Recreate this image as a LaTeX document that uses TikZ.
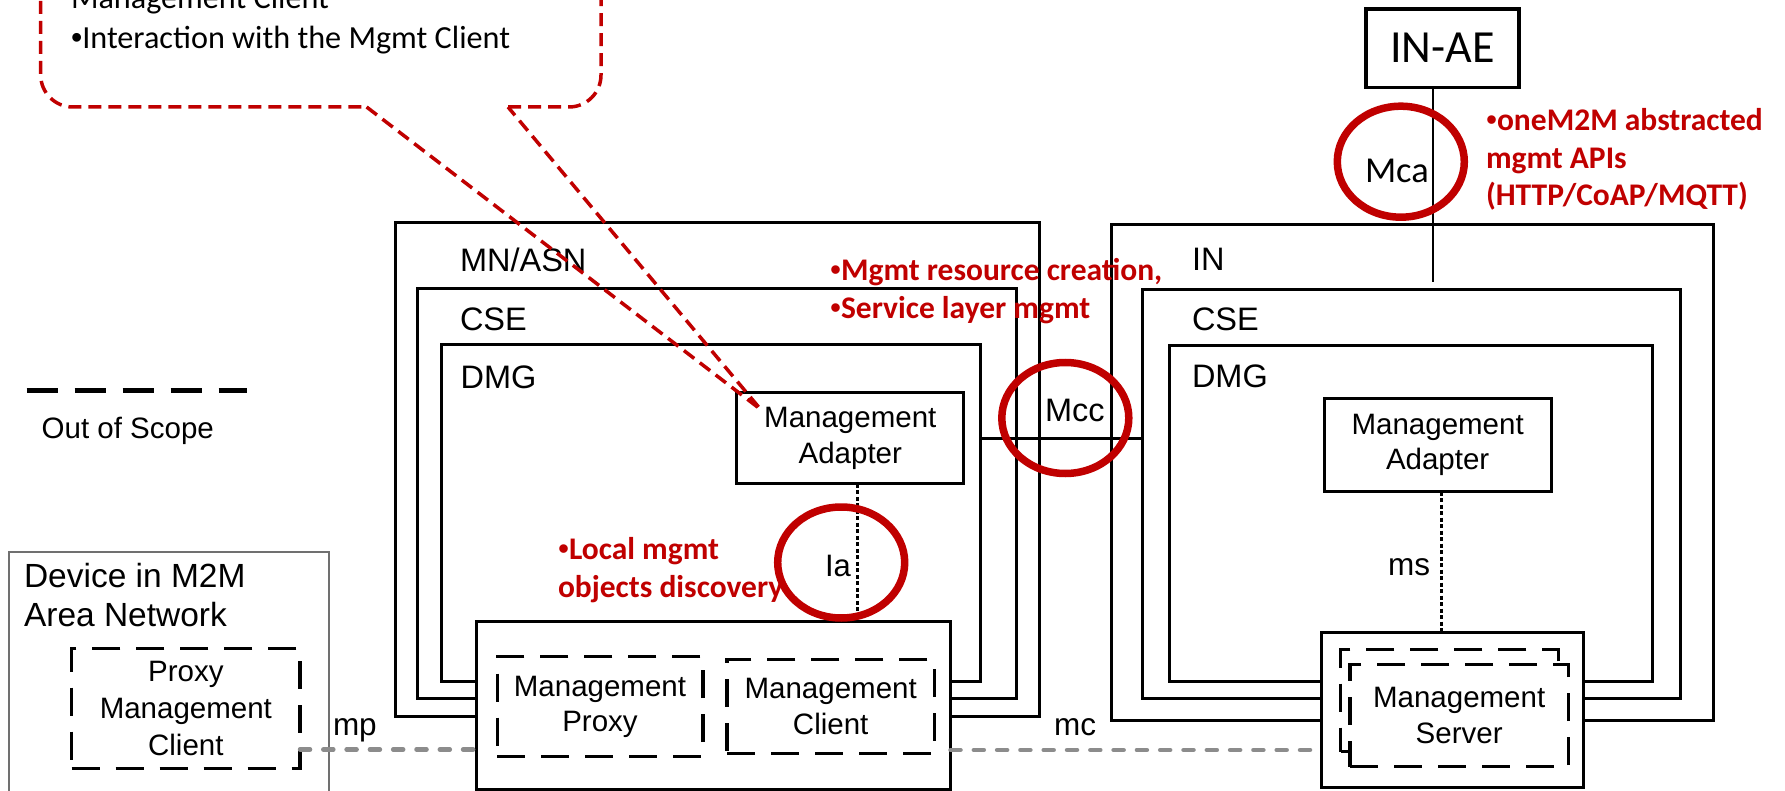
\documentclass[tikz,border=0pt]{standalone}
\usepackage{fontspec}
\setmainfont{Liberation Sans}
\newfontfamily\calibri{Carlito}
\usetikzlibrary{shapes.geometric}
\newcommand\bul{{\rmfamily\mdseries •}}

\begin{document}
\begin{tikzpicture}[x=1pt,y=-1pt,every node/.style={font=\fontsize{29.5}{35.5}\selectfont,align=center,inner sep=0,outer sep=0},
  frame/.style={draw,line width=3pt},
  oos/.style={draw,line width=3.5pt,dash pattern=on 28pt off 16pt},
  ring/.style={ellipse,draw=dmred,line width=7.5pt,minimum width=127,minimum height=111},
  iface/.style={line width=3pt,dash pattern=on 4pt off 2.5pt},
  mgmtlink/.style={draw=linkgray,line width=4.5pt,line cap=round,dash pattern=on 10pt off 13.3pt},
  callout/.style={draw=dmred,line width=3.5pt,dash pattern=on 13pt off 7pt},
  note/.style={anchor=base west,align=left,text=dmred,font=\calibri\bfseries\fontsize{31.5}{37.8}\selectfont},
  linkname/.style={font=\fontsize{31.5}{37}\selectfont}]
\path[use as bounding box] (0,0) rectangle (1785,791);
\clip (0,0) rectangle (1785,791);
\definecolor{dmred}{HTML}{C00000}
\definecolor{linkgray}{HTML}{8C8C8C}
\definecolor{devgray}{HTML}{707070}
\foreach \n/\cx/\cy/\w/\h/\lx/\ly/\txt in {
  mnasn/717.5/469.5/644/493/460/271.7/{MN/ASN},
  mncse/717.1/493.4/599.2/409.8/460/331/CSE,
  mndmg/711.2/512.6/539/336.8/460.7/388.3/DMG,
  infra/1412.4/472.65/601.8/495.3/1192/270.7/IN,
  incse/1411.5/493.8/538.4/409/1192/331/CSE,
  indmg/1411/513.5/483.4/335/1192/388/DMG}{
  \node[frame,minimum width=\w,minimum height=\h] (\n) at (\cx,\cy) {};
  \node[anchor=base west,font=\fontsize{32.5}{39}\selectfont] (\n-name) at (\lx,\ly) {\txt};
}
\node[frame,minimum width=227.3,minimum height=91.5] (mnadapt) at (850.3,438.2) {Management\\Adapter};
\node[frame,minimum width=226.7,minimum height=93.4] (inadapt) at (1437.65,445) {Management\\Adapter};
\draw[line width=3pt] (mnadapt.east -| mndmg.east) -- (mnadapt.east -| incse.west);
\node[draw,line width=3.5pt,minimum width=153,minimum height=78.3,font=\calibri\fontsize{46}{52}\selectfont] (inae) at (1442.5,48.2) {IN-AE};
\coordinate (mcaend) at (1433.3,281.7);
\draw[line width=2pt] (inae.south -| mcaend) -- (mcaend);
\node[frame,fill=white,minimum width=474,minimum height=168.5] (mndev) at (713.5,705.25) {};
\node[oos,minimum width=205.5,minimum height=100] (mproxy) at (600,706.7) {Management\\Proxy};
\node[oos,minimum width=207.3,minimum height=93.8] (mclient) at (830.7,706.4) {Management\\Client};
\draw[iface] ([xshift=7.4]mnadapt.south) -- ([xshift=7.4]mnadapt.south |- mndev.north);
\node[frame,fill=white,minimum width=262,minimum height=154.8] (mserver) at (1452.3,709.9) {};
\node[oos,minimum width=217.6,minimum height=102.4] (srvback) at (1449.5,700.5) {};
\node[oos,fill=white,minimum width=218.3,minimum height=102.4] (srvfront) at (1459.15,715.5) {Management\\Server};
\draw[iface] ([xshift=4]inadapt.south) -- ([xshift=4]inadapt.south |- mserver.north);
\node[draw=devgray,line width=2pt,minimum width=320.3,minimum height=260,anchor=north west] (m2mdev) at (9,551.7) {};
\node[anchor=base west,align=left,font=\fontsize{33.5}{39.4}\selectfont] (m2mdev-name) at (24,626.7) {Device in M2M\\Area Network};
\node[oos,minimum width=228.3,minimum height=120,font=\fontsize{29.5}{36.7}\selectfont] (pmc) at (185.85,708.3) {Proxy\\Management\\Client};
\draw[mgmtlink] (pmc.east |- 0,749.5) -- (mndev.west |- 0,749.5);
\draw[mgmtlink] (mndev.east |- 0,750) -- (mserver.west |- 0,750);
\node[anchor=base west,linkname] (mpname) at (333,735) {mp};
\node[anchor=base west,linkname] (mcname) at (1054,735) {mc};
\node[anchor=base east,linkname] (msname) at (1430,575) {ms};
\coordinate (tip) at ([shift={(24,17)}]mnadapt.north west);
\draw[callout,rounded corners=32] (508,107) -- (601,107) -- (601,-80) -- (40.7,-80) -- (40.7,107) -- (366.6,107);
\draw[callout] (366.6,107) -- (tip) -- (508,107);
\node[anchor=base west,align=left,font=\calibri\fontsize{32.2}{40}\selectfont] (calltext) at (71,48.3) {Management Client\\\bul Interaction with the Mgmt Client};
\node[ring] (mcaring) at (1400.8,161.7) {};
\node[ring] (mccring) at (1065.3,418) {};
\node[ring] (iaring) at (841.2,562.5) {};
\node[anchor=base west,font=\calibri\fontsize{36.5}{40}\selectfont] (mcaname) at (1365,182.7) {Mca};
\node[anchor=base west,font=\fontsize{32.5}{39}\selectfont] (mccname) at (1045,421.7) {Mcc};
\node[anchor=base west,font=\fontsize{31}{37}\selectfont] (ianame) at (825,576) {Ia};
\node[note] (mccnote) at (830,318.3) {\bul Mgmt resource creation,\\\bul Service layer mgmt};
\node[note] (mcanote) at (1486,206) {\bul oneM2M abstracted\\mgmt APIs\\(HTTP/CoAP/MQTT)};
\node[note] (ianote) at (558,597.7) {\bul Local mgmt\\objects discovery};
\draw[line width=5pt,dash pattern=on 31pt off 17pt] (26.7,390.7) -- (246.7,390.7);
\node[anchor=base west] (oosname) at (41.7,438.3) {Out of Scope};
\end{tikzpicture}
\end{document}
